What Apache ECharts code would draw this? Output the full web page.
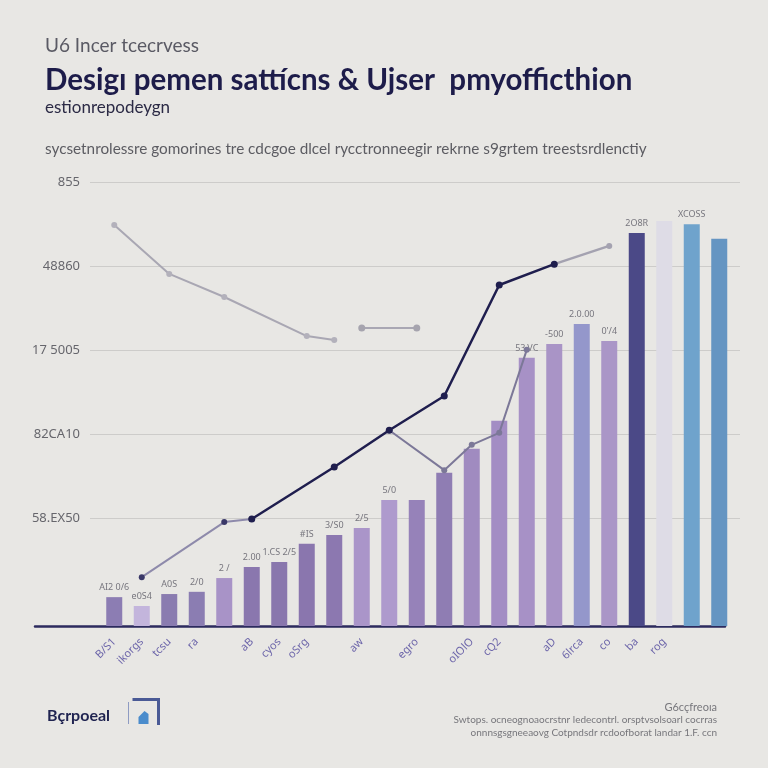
<!DOCTYPE html>
<html>
<head>
<meta charset="utf-8">
<script src="https://cdn.jsdelivr.net/npm/echarts@6/dist/echarts.min.js"></script>
<style>
html,body{margin:0;padding:0;background:#e8e7e4;}
#chart{width:768px;height:768px;}
</style>
</head>
<body>
<div id="chart"></div>
<script>
// ---- data ----
var categories = ['B/S1','ikorgs','tcsu','ra','','aB','cyos','oSrg','','aw','','egro','','oIOlO','cQ2','','aD','6lrca','co','ba','rog','',''];
var barValues = [6.5,4.5,7.2,7.7,10.8,13.3,14.4,18.5,20.5,22.1,28.4,28.4,34.5,39.9,46.2,60.4,63.5,68.0,64.2,88.5,91.2,90.5,87.2];
var barColors = ['#8c7db3','#c3b5dc','#8a7cb0','#8b7db2','#a893c7','#8a77ae','#8977ad','#8a76ae','#8c78b0','#aa95c9','#ae9acd','#9682b9','#8f7db3','#a08bc0','#a38dc4','#a791c6','#a994c6','#9497cb','#aa96c7','#4b4987','#dedce6','#6fa3cc','#6595c2'];
var barLabels = ['AI2 0/6','e0S4','A0S','2/0','2 /','2.00','1.CS 2/5','#IS','3/S0','2/5','5/0','','','','','53.VC','-500','2.0.00','0\'/4','2O8R','','XCOSS',''];
var yTickLabels = ['58.EX50','82CA10','17 5005','48860','855'];
// lines (values per category, null = no point)
var navyLow  = [null,11.0,null,null,23.4,24.1,null,null,null,null,null,null,null,null,null,null,null,null,null,null,null,null,null];
var navyMain = [null,null,null,null,null,24.1,null,null,35.8,null,44.1,null,51.8,null,76.8,null,81.5,null,null,null,null,null,null];
var navyTail = [null,null,null,null,null,null,null,null,null,null,null,null,null,null,null,null,81.5,null,85.6,null,null,null,null];
var grayLine = [90.3,null,79.3,null,74.1,null,null,65.3,64.4,null,null,null,null,null,null,null,null,null,null,null,null,null,null];
var grayShort= [null,null,null,null,null,null,null,null,null,67.1,null,67.1,null,null,null,null,null,null,null,null,null,null,null];
var plumLine = [null,null,null,null,null,null,null,null,null,null,44.1,null,35.1,40.8,43.5,62.2,null,null,null,null,null,null,null];

var chart = echarts.init(document.getElementById('chart'));

function lineSeries(name, data, color, width, symbolColor, symbolSize, z){
  return {
    name:name, type:'line', xAxisIndex:1, yAxisIndex:1, data:data, connectNulls:true,
    lineStyle:{color:color,width:width}, itemStyle:{color:symbolColor},
    symbol:'circle', symbolSize:symbolSize, z:z, animation:false
  };
}

var option = {
  backgroundColor:'#e8e7e4',
  animation:false,
  title:[
    {text:'U6 Incer tcecrvess', left:40, top:31, textStyle:{fontFamily:'Lato', fontSize:19, fontWeight:'normal', color:'#5a5a64'}},
    {text:'Desigı pemen sattícns & Ujser  pmyofficthion', left:40, top:60, textStyle:{fontFamily:'Lato', fontSize:29.5, fontWeight:'bold', color:'#1d1c4a'}},
    {text:'estionrepodeygn', left:40, top:94, textStyle:{fontFamily:'Lato', fontSize:17, fontWeight:'normal', color:'#2b2a45'}},
    {text:'sycsetnrolessre gomorines tre cdcgoe dlcel rycctronneegir rekrne s9grtem treestsrdlenctiy', left:40, top:137, textStyle:{fontFamily:'Lato', fontSize:15.3, fontWeight:'normal', color:'#5c5c62'}},
    {text:'Bçrpoeal', left:42, top:703, textStyle:{fontFamily:'Lato', fontSize:16, fontWeight:'bold', color:'#1f2350'}},
    {text:'G6cçfreoıa', right:46, top:697, textStyle:{fontFamily:'Lato', fontSize:11, fontWeight:'normal', color:'#77777c'}},
    {text:'Swtops. ocneognoaocrstnr ledecontrl. orsptvsolsoarl cocrras', right:46, top:710, textStyle:{fontFamily:'Lato', fontSize:10, fontWeight:'normal', color:'#77777c'}},
    {text:'onnnsgsgneeaovg Cotpndsdr rcdoofborat landar 1.F. ccn', right:46, top:723, textStyle:{fontFamily:'Lato', fontSize:10, fontWeight:'normal', color:'#77777c'}}
  ],
  grid:[
    {left:90, right:28, top:182, height:336},
    {left:100.5, right:35, top:182, bottom:142},
    {left:35, right:43, top:600, bottom:142}
  ],
  xAxis:[
    {gridIndex:0, type:'value', min:0, max:1, show:false},
    {gridIndex:1, type:'category', data:categories,
      axisLine:{show:false}, axisTick:{show:false},
      axisLabel:{interval:0, rotate:45, margin:14, fontSize:11, fontFamily:'Noto Sans', color:'#6d66aa'}},
    {gridIndex:2, type:'value', min:0, max:1, axisLine:{show:true, lineStyle:{color:'#2c2b5e', width:2.5}},
      axisTick:{show:false}, axisLabel:{show:false}, splitLine:{show:false}}
  ],
  yAxis:[
    {gridIndex:0, type:'value', min:0, max:4, interval:1,
      axisLine:{show:false}, axisTick:{show:false},
      splitLine:{lineStyle:{color:'#cdccca', width:1}},
      axisLabel:{margin:10, fontSize:13, fontFamily:'Noto Sans', color:'#66666c',
        formatter:function(v){return yTickLabels[Math.round(v)];}}},
    {gridIndex:1, type:'value', min:0, max:100, show:false},
    {gridIndex:2, type:'value', min:0, max:1, show:false}
  ],
  series:[
    {
      name:'bars', type:'bar', xAxisIndex:1, yAxisIndex:1, barWidth:16, z:2,
      data:barValues.map(function(v,i){return {value:v, itemStyle:{color:barColors[i]}};}),
      label:{show:true, position:'top', distance:5, fontSize:9, fontFamily:'Noto Sans', color:'#77767e',
        formatter:function(p){return barLabels[p.dataIndex];}}
    },
    lineSeries('navyLow', navyLow, '#8e8aab', 2, '#3a3868', 6, 4),
    lineSeries('grayLine', grayLine, '#a9a7b3', 2, '#b3b1bb', 6, 3),
    lineSeries('grayShort', grayShort, '#a9a7b3', 2, '#a6a4ae', 7, 3),
    lineSeries('plumLine', plumLine, '#7c7898', 2, '#7c7898', 6, 4),
    lineSeries('navyTail', navyTail, '#a4a2b0', 2.5, '#a4a2b0', 6, 4),
    lineSeries('navyMain', navyMain, '#1f1e4e', 2.5, '#1f1e4e', 7, 5)
  ],
  graphic:[
    {type:'group', left:126, top:697, children:[
      {type:'line', shape:{x1:2, y1:4, x2:2, y2:26}, style:{stroke:'#8e9bc2', lineWidth:1}},
      {type:'polyline', shape:{points:[[6,1.5],[32,1.5],[32,27]]}, style:{stroke:'#4a5a95', lineWidth:3, fill:null}},
      {type:'polygon', shape:{points:[[12,26],[12,19],[18,13],[22,16],[22,26]]}, style:{fill:'#4a8ccc'}}
    ]}
  ]
};
chart.setOption(option);
</script>
</body>
</html>
